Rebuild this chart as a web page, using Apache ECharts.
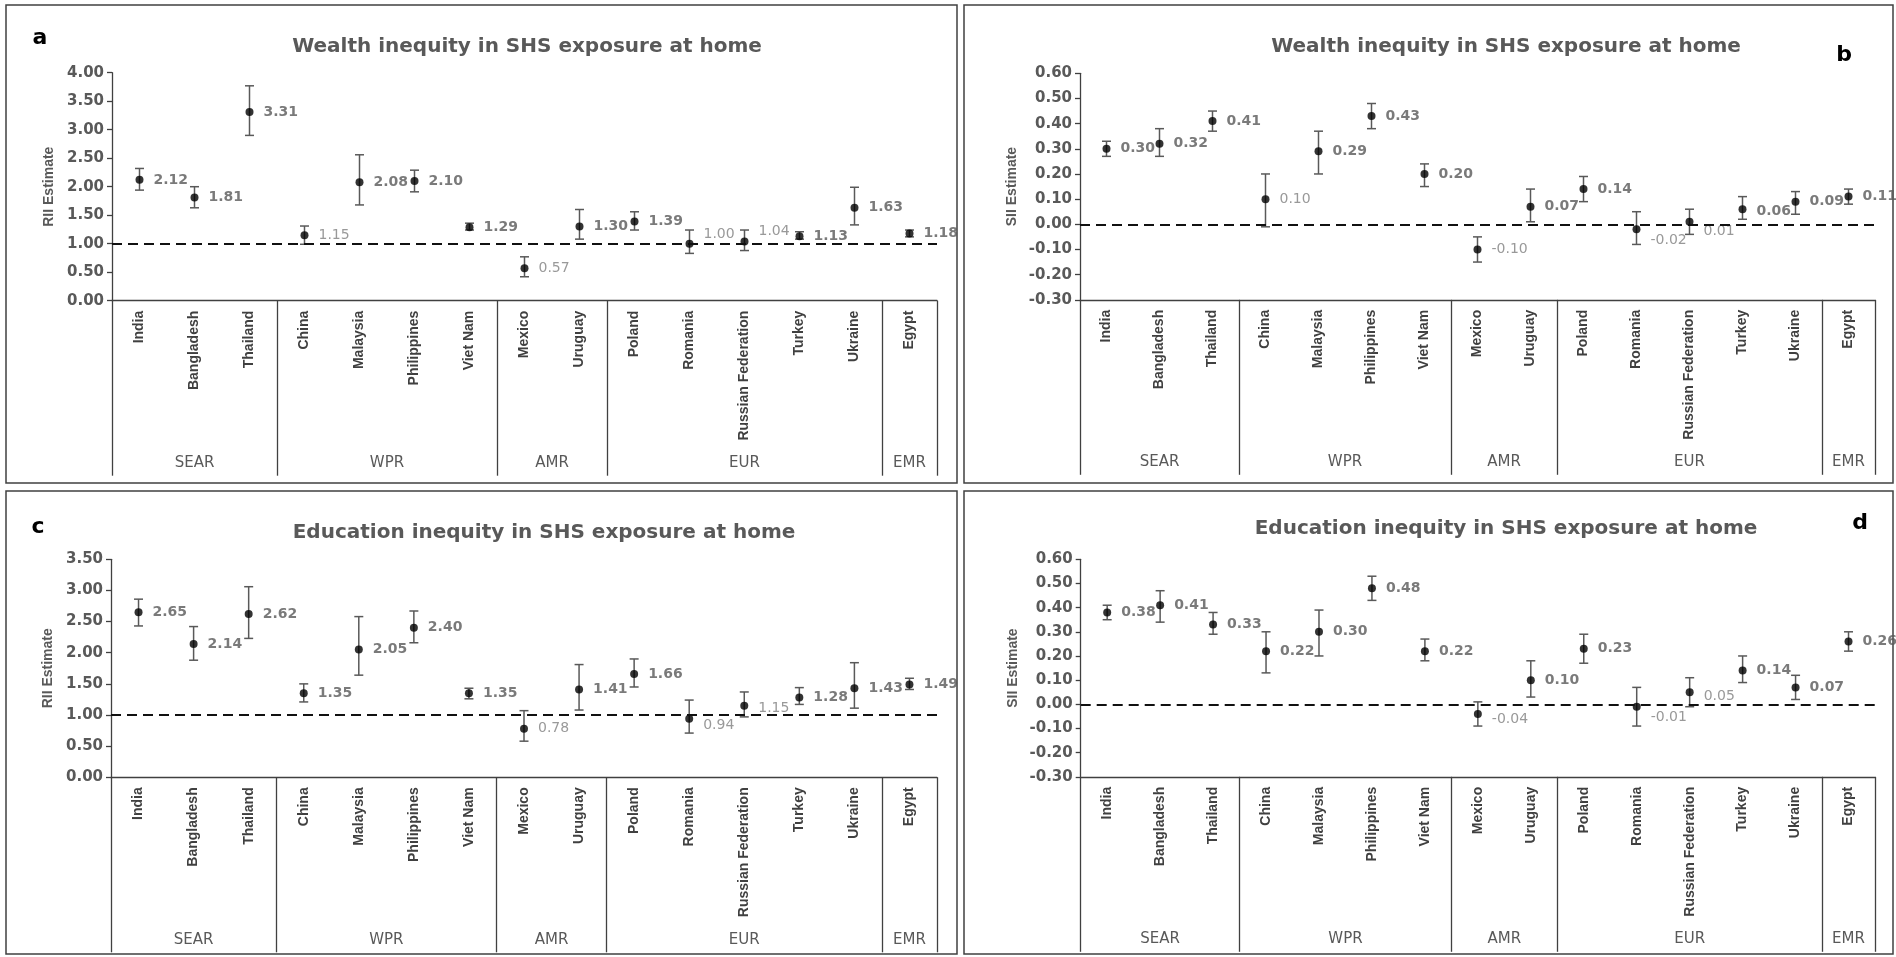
<!DOCTYPE html>
<html><head><meta charset="utf-8">
<script src="https://cdn.jsdelivr.net/npm/echarts@6/dist/echarts.min.js"></script>
<style>html,body{margin:0;padding:0;background:#fff}#c{width:1896px;height:957px}</style>
</head><body><div id="c"></div>
<script>
const categories = ['India','Bangladesh','Thailand','China','Malaysia','Philippines','Viet Nam','Mexico','Uruguay','Poland','Romania','Russian Federation','Turkey','Ukraine','Egypt'];
const regionNames = ['SEAR','WPR','AMR','EUR','EMR'];
const regionSizes = [3,4,2,5,1];

const wealthRII     = [2.12,1.81,3.31,1.15,2.08,2.10,1.29,0.57,1.30,1.39,1.00,1.04,1.13,1.63,1.18];
const wealthRIILow  = [1.94,1.63,2.90,0.99,1.68,1.91,1.24,0.42,1.08,1.24,0.83,0.88,1.08,1.33,1.12];
const wealthRIIHigh = [2.32,2.00,3.77,1.31,2.56,2.29,1.36,0.77,1.60,1.56,1.24,1.24,1.21,1.99,1.24];

const wealthSII     = [0.30,0.32,0.41,0.10,0.29,0.43,0.20,-0.10,0.07,0.14,-0.02,0.01,0.06,0.09,0.11];
const wealthSIILow  = [0.27,0.27,0.37,-0.01,0.20,0.38,0.15,-0.15,0.01,0.09,-0.08,-0.04,0.02,0.04,0.08];
const wealthSIIHigh = [0.33,0.38,0.45,0.20,0.37,0.48,0.24,-0.05,0.14,0.19,0.05,0.06,0.11,0.13,0.14];

const eduRII     = [2.65,2.14,2.62,1.35,2.05,2.40,1.35,0.78,1.41,1.66,0.94,1.15,1.28,1.43,1.49];
const eduRIILow  = [2.43,1.88,2.23,1.21,1.64,2.16,1.26,0.58,1.08,1.45,0.71,0.97,1.17,1.11,1.41];
const eduRIIHigh = [2.86,2.42,3.06,1.50,2.58,2.67,1.43,1.07,1.81,1.90,1.24,1.37,1.44,1.84,1.59];

const eduSII     = [0.38,0.41,0.33,0.22,0.30,0.48,0.22,-0.04,0.10,0.23,-0.01,0.05,0.14,0.07,0.26];
const eduSIILow  = [0.35,0.34,0.29,0.13,0.20,0.43,0.18,-0.09,0.03,0.17,-0.09,-0.01,0.09,0.02,0.22];
const eduSIIHigh = [0.41,0.47,0.38,0.30,0.39,0.53,0.27,0.01,0.18,0.29,0.07,0.11,0.20,0.12,0.30];

const titleWealth = 'Wealth inequity in SHS exposure at home';
const titleEdu = 'Education inequity in SHS exposure at home';

// ---- layout / style ----
const panels = [
  {letter:'a', title:titleWealth, yName:'RII Estimate', est:wealthRII, lo:wealthRIILow, hi:wealthRIIHigh, ref:1, min:0, max:4, interval:0.5,
   grid:{left:112, top:72.7, width:825, height:228}, titlePos:[527,47], letterPos:[40,38], box:[6,5,951,478], nameGap:56,
   labelShift:{10:[0,-9], 11:[0,-10]}},
  {letter:'b', title:titleWealth, yName:'SII Estimate', est:wealthSII, lo:wealthSIILow, hi:wealthSIIHigh, ref:0, min:-0.3, max:0.6, interval:0.1,
   grid:{left:1080, top:73.3, width:795, height:226.5}, titlePos:[1506,47], letterPos:[1844,55], box:[964,5,929,478], nameGap:61,
   labelShift:{10:[0,11], 11:[0,10], 12:[0,2]}},
  {letter:'c', title:titleEdu, yName:'RII Estimate', est:eduRII, lo:eduRIILow, hi:eduRIIHigh, ref:1, min:0, max:3.5, interval:0.5,
   grid:{left:111, top:559.3, width:826, height:218}, titlePos:[544,533], letterPos:[38,527], box:[6,491,951,463], nameGap:56,
   labelShift:{10:[0,7], 11:[0,3]}},
  {letter:'d', title:titleEdu, yName:'SII Estimate', est:eduSII, lo:eduSIILow, hi:eduSIIHigh, ref:0, min:-0.3, max:0.6, interval:0.1,
   grid:{left:1080.7, top:559.3, width:794.3, height:217.5}, titlePos:[1506,529], letterPos:[1860,523], box:[964,491,929,463], nameGap:61,
   labelShift:{7:[0,5], 10:[0,11], 11:[0,4]}}
];

const bounds = [0];
regionSizes.forEach(s => bounds.push(bounds[bounds.length-1] + s));
const centers = regionSizes.map((s,i) => bounds[i] + s/2);
const regionAt = v => { const i = centers.findIndex(c => Math.abs(c - v) < 1e-6); return i >= 0 ? regionNames[i] : ''; };

const AX = '#404040';
const grids = [], xAxes = [], yAxes = [], series = [], graphics = [];

panels.forEach((p, k) => {
  grids.push(Object.assign({containLabel:false}, p.grid));
  xAxes.push({
    type:'category', gridIndex:k, data:categories, position:'bottom', boundaryGap:true,
    axisLine:{onZero:false, lineStyle:{color:AX, width:1.3}},
    axisTick:{show:false},
    axisLabel:{interval:0, rotate:90, margin:10, fontFamily:'Liberation Sans', fontWeight:'bold', fontSize:14, color:'#404040'}
  });
  xAxes.push({
    type:'value', gridIndex:k, min:0, max:categories.length, position:'bottom',
    axisLine:{show:false, onZero:false}, splitLine:{show:false},
    axisTick:{show:true, customValues:bounds, length:175, lineStyle:{color:AX, width:1.3}},
    axisLabel:{show:true, customValues:centers, formatter:regionAt, margin:155, fontFamily:'DejaVu Sans', fontSize:15, color:'#595959'}
  });
  yAxes.push({
    type:'value', gridIndex:k, min:p.min, max:p.max, interval:p.interval,
    name:p.yName, nameLocation:'middle', nameGap:p.nameGap, nameRotate:90,
    nameTextStyle:{fontFamily:'Liberation Sans', fontWeight:'bold', fontSize:14, color:'#595959'},
    axisLine:{show:true, onZero:false, lineStyle:{color:AX, width:1.3}},
    axisTick:{show:true, length:5, lineStyle:{color:AX, width:1.3}},
    splitLine:{show:false},
    axisLabel:{margin:8, fontFamily:'DejaVu Sans', fontWeight:'bold', fontSize:15, color:'#595959',
      formatter: v => (Math.abs(v) < 1e-9 ? 0 : v).toFixed(2)}
  });
  series.push({
    type:'custom', xAxisIndex:2*k, yAxisIndex:k, z:2,
    data: categories.map((c,i) => [i, p.lo[i], p.hi[i]]),
    encode:{x:0, y:[1,2]},
    renderItem:(params, api) => {
      const x = api.value(0);
      const a = api.coord([x, api.value(1)]);
      const b = api.coord([x, api.value(2)]);
      const w = 4.5;
      const st = {stroke:'#595959', lineWidth:1.5};
      return {type:'group', children:[
        {type:'line', shape:{x1:a[0], y1:a[1], x2:b[0], y2:b[1]}, style:st},
        {type:'line', shape:{x1:a[0]-w, y1:a[1], x2:a[0]+w, y2:a[1]}, style:st},
        {type:'line', shape:{x1:b[0]-w, y1:b[1], x2:b[0]+w, y2:b[1]}, style:st}
      ]};
    }
  });
  series.push({
    type:'scatter', xAxisIndex:2*k, yAxisIndex:k, z:3,
    symbol:'circle', symbolSize:8, itemStyle:{color:'#000'},
    data: p.est.map((v,i) => {
      const sig = p.lo[i] > p.ref;
      const lab = sig
        ? {fontFamily:'DejaVu Sans', fontWeight:'bold', fontSize:14, color:'#595959'}
        : {fontFamily:'DejaVu Sans', fontWeight:'normal', fontSize:14, color:'#808080'};
      if (p.labelShift[i]) lab.offset = p.labelShift[i];
      return {value:[i, v], label:lab};
    }),
    label:{show:true, position:'right', distance:10, formatter: q => q.value[1].toFixed(2)},
    markLine:{silent:true, symbol:['none','none'], label:{show:false},
      lineStyle:{type:[10,6], width:2, color:'#111'},
      data:[{yAxis:p.ref}]}
  });
  graphics.push({type:'rect', shape:{x:p.box[0], y:p.box[1], width:p.box[2], height:p.box[3]},
    style:{fill:'none', stroke:'#404040', lineWidth:1.5}, z:-1});
  graphics.push({type:'text', x:p.titlePos[0], y:p.titlePos[1],
    style:{text:p.title, font:'bold 20px "DejaVu Sans"', fill:'#595959', textAlign:'center', textVerticalAlign:'middle'}});
  graphics.push({type:'text', x:p.letterPos[0], y:p.letterPos[1],
    style:{text:p.letter, font:'bold 22px "DejaVu Sans"', fill:'#000', textAlign:'center', textVerticalAlign:'middle'}});
});

const chart = echarts.init(document.getElementById('c'), null, {renderer:'canvas'});
chart.setOption({
  backgroundColor:'#fff', animation:false,
  grid:grids, xAxis:xAxes, yAxis:yAxes, series:series, graphic:graphics
});
</script></body></html>
